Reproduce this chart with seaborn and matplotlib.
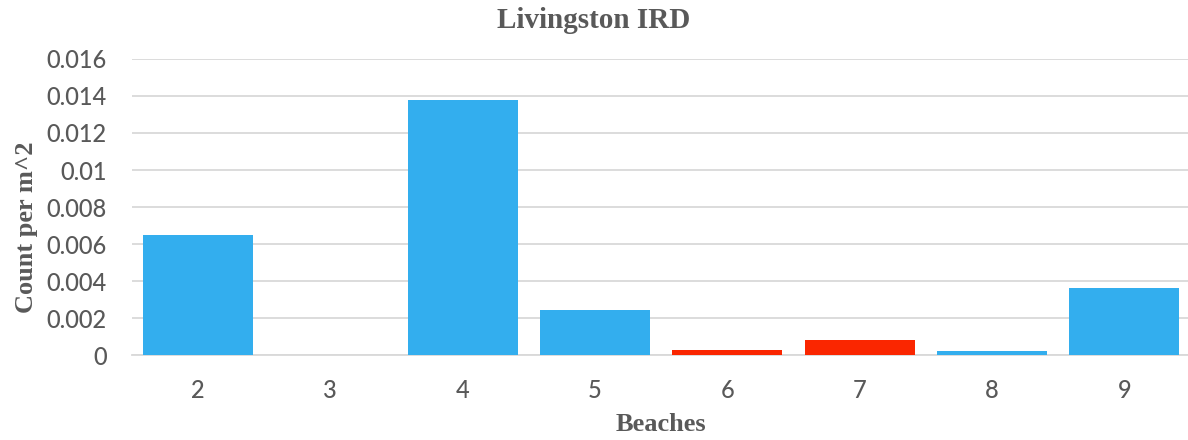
import matplotlib
matplotlib.use("Agg")
import matplotlib.pyplot as plt
import seaborn as sns
import pandas as pd

# Ice-rafted debris density per beach
beaches = ["2", "3", "4", "5", "6", "7", "8", "9"]
counts_per_m2 = [0.0065, 0.0, 0.0138, 0.00245, 0.00025, 0.00083, 0.00022, 0.0036]
bar_colors = ["#33AEEE", "#33AEEE", "#33AEEE", "#33AEEE",
              "#FA2600", "#FA2600", "#33AEEE", "#33AEEE"]
y_ticks = [0, 0.002, 0.004, 0.006, 0.008, 0.01, 0.012, 0.014, 0.016]
y_tick_labels = ["0", "0.002", "0.004", "0.006", "0.008", "0.01", "0.012", "0.014", "0.016"]

df = pd.DataFrame({"Beach": beaches, "Count": counts_per_m2})

sns.set_theme(style="white")
plt.rcParams["font.family"] = ["Lato", "DejaVu Sans"]

text_gray = "#595959"
grid_gray = "#D9D9D9"

fig = plt.figure(figsize=(11.88, 4.4), dpi=100)
ax = fig.add_axes([0.111, 0.193, 0.891, 0.673])

sns.barplot(data=df, x="Beach", y="Count", hue="Beach", order=beaches,
            palette=bar_colors, legend=False, width=0.83, saturation=1,
            edgecolor="none", ax=ax, zorder=3)

ax.set_ylim(0, 0.016)
ax.set_yticks(y_ticks)
ax.set_yticklabels(y_tick_labels)
ax.yaxis.grid(True, color=grid_gray, linewidth=1.3, zorder=0)
ax.set_axisbelow(True)
for side in ["top", "right", "left"]:
    ax.spines[side].set_visible(False)
ax.spines["bottom"].set_color(grid_gray)
ax.spines["bottom"].set_linewidth(1.3)
ax.tick_params(axis="both", length=0, labelsize=17, labelcolor=text_gray)
for lbl in ax.get_xticklabels() + ax.get_yticklabels():
    lbl.set_fontweight("medium")
ax.tick_params(axis="y", pad=18)
ax.tick_params(axis="x", pad=17)

serif_bold = dict(family=["Liberation Serif", "DejaVu Serif"], weight="bold",
                  color=text_gray)
ax.set_xlabel("Beaches", fontsize=19, labelpad=8, **serif_bold)
ax.set_ylabel("Count per m^2", fontsize=19, **serif_bold)
ax.yaxis.set_label_coords(-0.089, 0.43)
fig.text(0.5, 0.953, "Livingston IRD", ha="center", va="center",
         fontsize=21, **serif_bold)

fig.savefig("out.png", dpi=100)
